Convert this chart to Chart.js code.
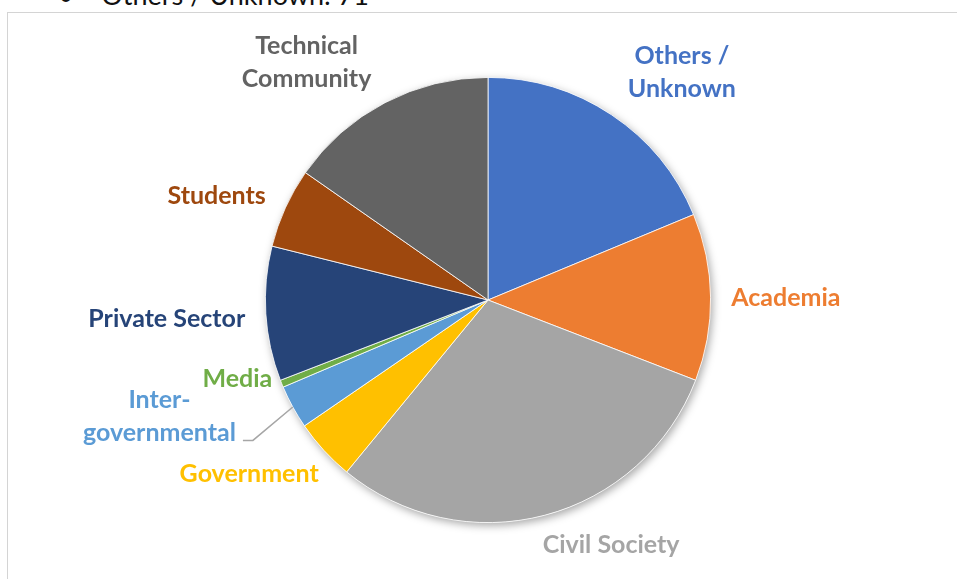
<!DOCTYPE html>
<html>
<head>
<meta charset="utf-8">
<script src="https://cdn.jsdelivr.net/npm/chart.js@4.4.0/dist/chart.umd.min.js"></script>
<style>
  html, body { margin: 0; padding: 0; background: #fff; overflow: hidden; }
  #wrap { position: relative; width: 957px; height: 579px; }
  #note {
    position: absolute; left: 58px; top: -22px;
    font-family: Lato, "Open Sans", sans-serif; font-size: 27px; color: #111;
    white-space: pre;
  }
  #frame {
    position: absolute; left: 7px; top: 12px; right: 0; bottom: -2px;
    border-left: 1px solid #d4d4d4; border-top: 1px solid #d4d4d4;
  }
  #pie { position: absolute; left: 0; top: 0; }
</style>
</head>
<body>
<div id="wrap">
  <div id="note">•    Others / Unknown: 71</div>
  <div id="frame"></div>
  <canvas id="pie" width="957" height="579"></canvas>
</div>
<script>
// categories and counts, clockwise from 12 o'clock
const categories = ['Others / Unknown', 'Academia', 'Civil Society', 'Government',
  'Inter-governmental', 'Media', 'Private Sector', 'Students', 'Technical Community'];
const counts = [71, 46, 114, 17, 12, 2, 37, 22, 58];
const labelLines = [
  ['Others /', 'Unknown'], ['Academia'], ['Civil Society'], ['Government'],
  ['Inter-', 'governmental'], ['Media'], ['Private Sector'], ['Students'],
  ['Technical', 'Community']
];
const sliceColors = ['#4472C4', '#ED7D31', '#A5A5A5', '#FFC000', '#5B9BD5',
  '#70AD47', '#264478', '#9E480E', '#636363'];

// label anchor (first baseline, centred), in units of the pie radius
const labelPos = [
  [0.871, -1.059], [1.338, 0.027], [0.553, 1.137], [-1.073, 0.817],
  [-1.476, 0.487], [-1.126, 0.392], [-1.443, 0.120], [-1.219, -0.431],
  [-0.815, -1.104]
];
const lineHeight = 33;
const labelFont = 'bold 25px Lato, "Open Sans", sans-serif';

const pieShadow = {
  id: 'pieShadow',
  beforeDatasetsDraw(chart) {
    const arc = chart.getDatasetMeta(0).data[0];
    if (!arc) return;
    const ctx = chart.ctx;
    ctx.save();
    ctx.shadowColor = 'rgba(0,0,0,0.35)';
    ctx.shadowBlur = 9;
    ctx.shadowOffsetX = 2;
    ctx.shadowOffsetY = 3;
    ctx.beginPath();
    ctx.arc(arc.x, arc.y, arc.outerRadius, 0, Math.PI * 2);
    ctx.fillStyle = '#fff';
    ctx.fill();
    ctx.restore();
  }
};

const sliceLabels = {
  id: 'sliceLabels',
  afterDatasetsDraw(chart) {
    const ctx = chart.ctx;
    const arcs = chart.getDatasetMeta(0).data;
    ctx.save();
    ctx.font = labelFont;
    ctx.textAlign = 'center';
    ctx.textBaseline = 'alphabetic';
    arcs.forEach((arc, i) => {
      const r = arc.outerRadius;
      const x = arc.x + labelPos[i][0] * r;
      const y = arc.y + labelPos[i][1] * r;
      ctx.fillStyle = sliceColors[i];
      labelLines[i].forEach((line, j) => ctx.fillText(line, x, y + j * lineHeight));

      // leader line for the inter-governmental slice
      if (i === 4) {
        const last = labelLines[i][labelLines[i].length - 1];
        const right = x + ctx.measureText(last).width / 2;
        const ly = y + (labelLines[i].length - 1) * lineHeight - 1;
        const mid = (arc.startAngle + arc.endAngle) / 2;
        ctx.strokeStyle = '#a6a6a6';
        ctx.lineWidth = 1.5;
        ctx.beginPath();
        ctx.moveTo(right + 7, ly);
        ctx.lineTo(right + 17, ly);
        ctx.lineTo(arc.x + Math.cos(mid) * r, arc.y + Math.sin(mid) * r);
        ctx.stroke();
      }
    });
    ctx.restore();
  }
};

new Chart(document.getElementById('pie').getContext('2d'), {
  type: 'pie',
  data: {
    labels: categories,
    datasets: [{
      data: counts,
      backgroundColor: sliceColors,
      borderColor: '#ffffff',
      borderWidth: 0.8
    }]
  },
  options: {
    responsive: false,
    animation: false,
    layout: { padding: { left: 265, right: 246, top: 77, bottom: 56 } },
    plugins: {
      legend: { display: false },
      tooltip: { enabled: false }
    }
  },
  plugins: [pieShadow, sliceLabels]
});
</script>
</body>
</html>
